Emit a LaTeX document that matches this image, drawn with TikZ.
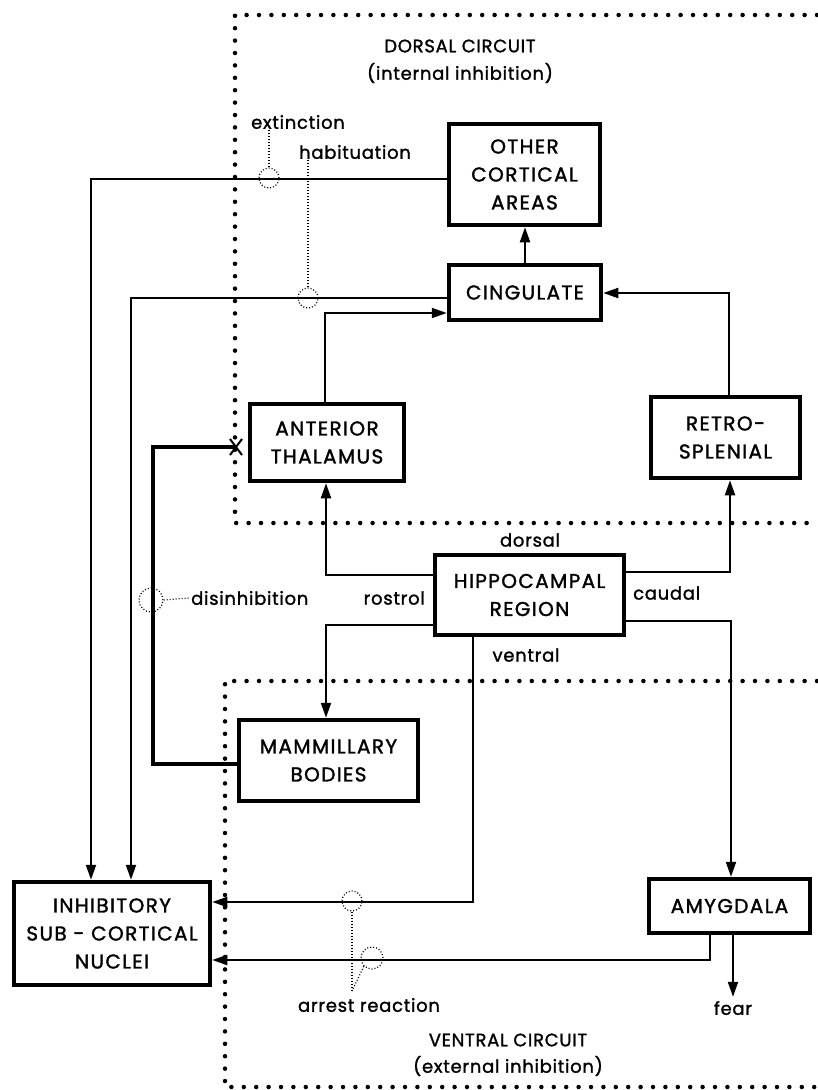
\documentclass[tikz,border=0pt]{standalone}
\usepackage{fontspec}
\setmainfont{Poppins}
\newfontfamily\bxfamily{Poppins}[FakeBold=1.6, LetterSpace=7]
\newfontfamily\lbfamily{Poppins}[FakeBold=1.4, LetterSpace=4]
\usetikzlibrary{arrows.meta}
\newcommand\bxfont{\bxfamily\fontsize{20}{28}\selectfont}
\newcommand\lbfont{\lbfamily\fontsize{18}{22}\selectfont}
\newcommand\ttfont{\lbfamily\fontsize{18}{24}\selectfont}
\tikzset{
  box/.style={draw, line width=4.5pt, rectangle, align=center, font=\bxfont, inner sep=0pt},
  lbl/.style={font=\lbfont, inner sep=1pt},
  ttl/.style={font=\ttfont, inner sep=1pt, align=center},
  arr/.style={line width=2pt, -{Triangle[length=15pt,width=10pt]}},
  heavy/.style={line width=4pt},
  region/.style={line width=4.5pt, line cap=round, dash pattern=on 0pt off 12.4pt},
  ring/.style={draw, circle, line width=1.2pt, dash pattern=on 1pt off 2pt, minimum size=20pt, inner sep=0pt},
  tie/.style={line width=1.2pt, dash pattern=on 1pt off 2pt},
}
\begin{document}
\begin{tikzpicture}[x=1pt,y=-1pt]
\useasboundingbox (0,0) rectangle (817,1090);

% circuit regions
\draw[region] (817,15) -- (235,15) -- (235,523) -- (817,523);
\draw[region] (817,681) -- (225,681) -- (225,1087) -- (817,1087);

% titles
\node[ttl] (dtitle) at (460,46) {DORSAL CIRCUIT};
\node[ttl] (dsub) at (460,73) {(internal inhibition)};
\node[ttl] (vtitle) at (508,1040) {VENTRAL CIRCUIT};
\node[ttl] (vsub) at (508,1066) {(external inhibition)};

% boxes
\node[box, minimum width=151pt, minimum height=101pt] (oca) at (524.5,174.5) {OTHER\\CORTICAL\\AREAS};
\node[box, minimum width=152pt, minimum height=55pt] (cing) at (525,292.5) {CINGULATE};
\node[box, minimum width=154pt, minimum height=77pt] (at) at (327,442.5) {ANTERIOR\\THALAMUS};
\node[box, minimum width=149pt, minimum height=81pt] (rs) at (725.5,437.5) {RETRO-\\SPLENIAL};
\node[box, minimum width=189pt, minimum height=80pt] (hip) at (529.5,595) {HIPPOCAMPAL\\REGION};
\node[box, minimum width=179pt, minimum height=81pt] (mam) at (328.5,760.5) {MAMMILLARY\\BODIES};
\node[box, minimum width=196pt, minimum height=103pt] (inh) at (112,933.5) {INHIBITORY\\SUB - CORTICAL\\NUCLEI};
\node[box, minimum width=161pt, minimum height=54pt] (amy) at (729.5,906) {AMYGDALA};

% labels
\node[lbl] (extl) at (298,122) {extinction};
\node[lbl] (habl) at (355,152) {habituation};
\node[lbl, anchor=west] (disl) at (190,598) {disinhibition};
\node[lbl, anchor=east] (rostl) at (426,598) {rostrol};
\node[lbl] (dorl) at (530,540) {dorsal};
\node[lbl, anchor=west] (caul) at (632,593) {caudal};
\node[lbl] (venl) at (526,655) {ventral};
\node[lbl] (arrl) at (369,1005) {arrest reaction};
\node[lbl] (fear) at (733,1008) {fear};

% connectors
\draw[arr] (oca.west |- 0,179) -| (inh.north -| 91,0);
\draw[arr] (cing.west |- 0,298) -| (inh.north -| 131,0);
\draw[arr] (cing.north -| 525,0) -- (oca.south -| 525,0);
\draw[arr] (at.north -| 325,0) |- (cing.west |- 0,313);
\draw[arr] (rs.north -| 729,0) |- (cing.east |- 0,293);
\draw[arr] (hip.west |- 0,575) -| (at.south -| 326,0);
\draw[arr] (hip.east |- 0,572) -| (rs.south -| 730,0);
\draw[arr] (hip.west |- 0,625) -| (mam.north -| 326,0);
\draw[arr] (hip.east |- 0,621) -| (amy.north -| 731,0);
\draw[arr] (hip.south -| 473,0) |- (inh.east |- 0,902);
\draw[arr] (amy.south -| 710,0) |- (inh.east |- 0,960);
\draw[arr, shorten >=3pt] (amy.south -| 733,0) -- (fear.north);

% mammillary -> anterior thalamus (blocked)
\coordinate (xm) at (236,447);
\draw[heavy] (mam.west |- 0,764) -| (153,447) -- (xm);
\draw[line width=2pt] (xm) +(-6,-8) -- +(6,8) (xm) +(-6,8) -- +(6,-8);

% dotted rings
\node[ring] (ce) at (269,178) {};
\node[ring] (ch) at (308,298) {};
\node[ring, minimum size=24pt] (cd) at (151,600) {};
\node[ring] (ca1) at (352,901) {};
\node[ring, minimum size=22pt] (ca2) at (372,958) {};
\coordinate (ar) at (352,991);

\draw[tie] (ce.north) -- (ce.north |- extl.south);
\draw[tie] (ch.north) -- (ch.north |- habl.south);
\draw[tie] (cd.east) -- (disl.west);
\draw[tie] (ca1.south) -- (ar);
\draw[tie] (ca2.south west) -- (ar);
\end{tikzpicture}
\end{document}
